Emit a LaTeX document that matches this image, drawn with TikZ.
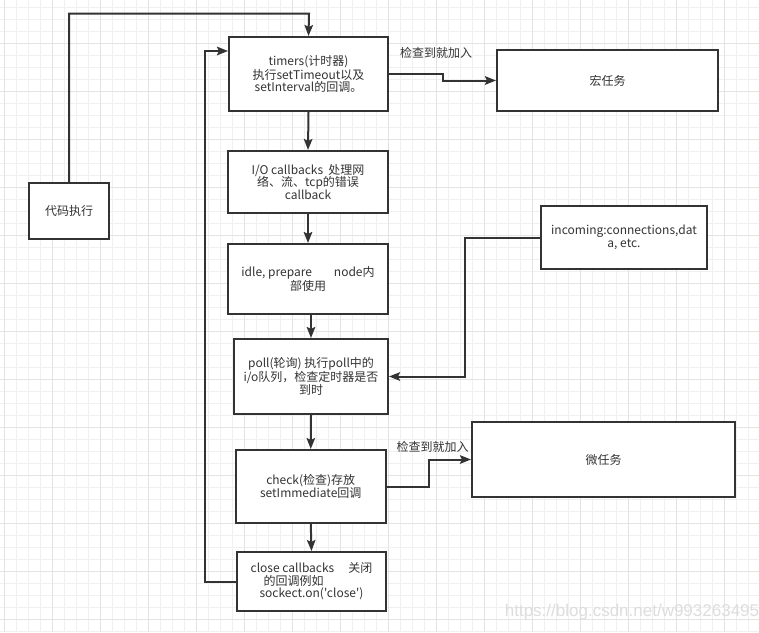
\documentclass[tikz,border=0pt]{standalone}
\usepackage{fontspec}
\setmainfont{Noto Sans CJK SC}
\newfontfamily\qfont{Noto Sans CJK SC}[Ligatures=TeXOff]
\newfontfamily\wmfont{Liberation Sans}
\usetikzlibrary{arrows.meta,calc}
\definecolor{ink}{HTML}{333333}
\definecolor{gridminor}{HTML}{F0F0F0}
\definecolor{gridmajor}{HTML}{E3E3DF}
\definecolor{wm}{HTML}{DDDDDD}
\tikzset{
  box/.style={draw=ink, line width=2pt, fill=white, align=center, text=ink,
    inner sep=0pt, font=\fontsize{12}{12.4}\selectfont},
  arr/.style={draw=ink, line width=2pt, -{Stealth[length=11pt,width=8.5pt,inset=2pt]}},
  lbl/.style={text=ink, inner sep=0pt, font=\fontsize{12}{12.4}\selectfont},
}
\begin{document}
\begin{tikzpicture}[x=1pt,y=-1pt]
\useasboundingbox (0,0) rectangle (759,632);
\fill[white] (0,0) rectangle (759,632);
% grid
\foreach \i in {0,...,63} {\draw[gridminor, line width=1pt] ({4.3+12*\i},0) -- ({4.3+12*\i},632);}
\foreach \i in {0,...,52} {\draw[gridminor, line width=1pt] (0,{7.3+12*\i}) -- (759,{7.3+12*\i});}
\foreach \i in {0,...,15} {\draw[gridmajor, line width=1pt] ({4.3+48*\i},0) -- ({4.3+48*\i},632);}
\foreach \i in {0,...,12} {\draw[gridmajor, line width=1pt] (0,{43.3+48*\i}) -- (759,{43.3+48*\i});}
\draw[gridmajor, line width=1pt] (0,-4.7) -- (759,-4.7);

% nodes
\node[box, minimum width=159pt, minimum height=74pt] (timers) at (308.5,74)
  {timers(计时器)\\执行setTimeout以及\\setInterval的回调。};
\node[box, minimum width=221pt, minimum height=61pt] (macro) at (607.5,80.5) {宏任务};
\node[box, minimum width=80pt, minimum height=56pt] (code) at (69,211) {代码执行};
\node[box, minimum width=160pt, minimum height=62pt] (io) at (308,182)
  {I/O callbacks\ \ 处理网\\络、流、tcp的错误\\callback};
\node[box, minimum width=160pt, minimum height=70pt] (idle) at (308,279)
  {idle, prepare\hspace{22pt}node内\\部使用};
\node[box, minimum width=154pt, minimum height=75pt] (poll) at (311,376.5)
  {poll(轮询) 执行poll中的\\i/o队列，检查定时器是否\\到时};
\node[box, minimum width=166pt, minimum height=63pt] (incoming) at (624,237.5)
  {incoming:connections,dat\\a, etc.};
\node[box, minimum width=149.5pt, minimum height=73pt] (check) at (310.75,486.5)
  {check(检查)存放\\setImmediate回调};
\node[box, minimum width=263pt, minimum height=75pt] (micro) at (603.5,459.5) {微任务};
\node[box, minimum width=149pt, minimum height=59pt] (close) at (311.5,581.5)
  {close callbacks\hspace{14pt}关闭\\的回调例如\rule{36pt}{0pt}\\{\qfont sockect.on('close')}};

% labels
\node[lbl] (lbltop) at (436,53) {检查到就加入};
\node[lbl] (lblbot) at (432.5,446.5) {检查到就加入};

% connectors
\coordinate (topc) at (309,13.5);
\draw[arr] (code.north) |- (topc) -- (timers.north);
\coordinate (loopc) at (205,51);
\draw[arr] (close.west) -| (loopc) -- (loopc -| timers.west);
\draw[arr] (timers.east) -| ($(timers.east)!0.5!(macro.west)$) |- (macro.west);
\draw[arr] (timers.south) -- (io.north);
\draw[arr] (io.south) -- (idle.north);
\draw[arr] (poll.north |- idle.south) -- (poll.north);
\draw[arr] (incoming.west) -| ($(incoming.west)!0.5!(poll.east)$) |- (poll.east);
\draw[arr] (poll.south) -- (check.north);
\draw[arr] (check.east) -| ($(check.east)!0.5!(micro.west)$) |- (micro.west);
\draw[arr] (check.south) -- (close.north);

% watermark
\node[text=wm, inner sep=0pt, font=\wmfont\fontsize{17}{17}\selectfont] (wmk) at (632,612) {https://blog.csdn.net/w993263495};
\end{tikzpicture}
\end{document}
